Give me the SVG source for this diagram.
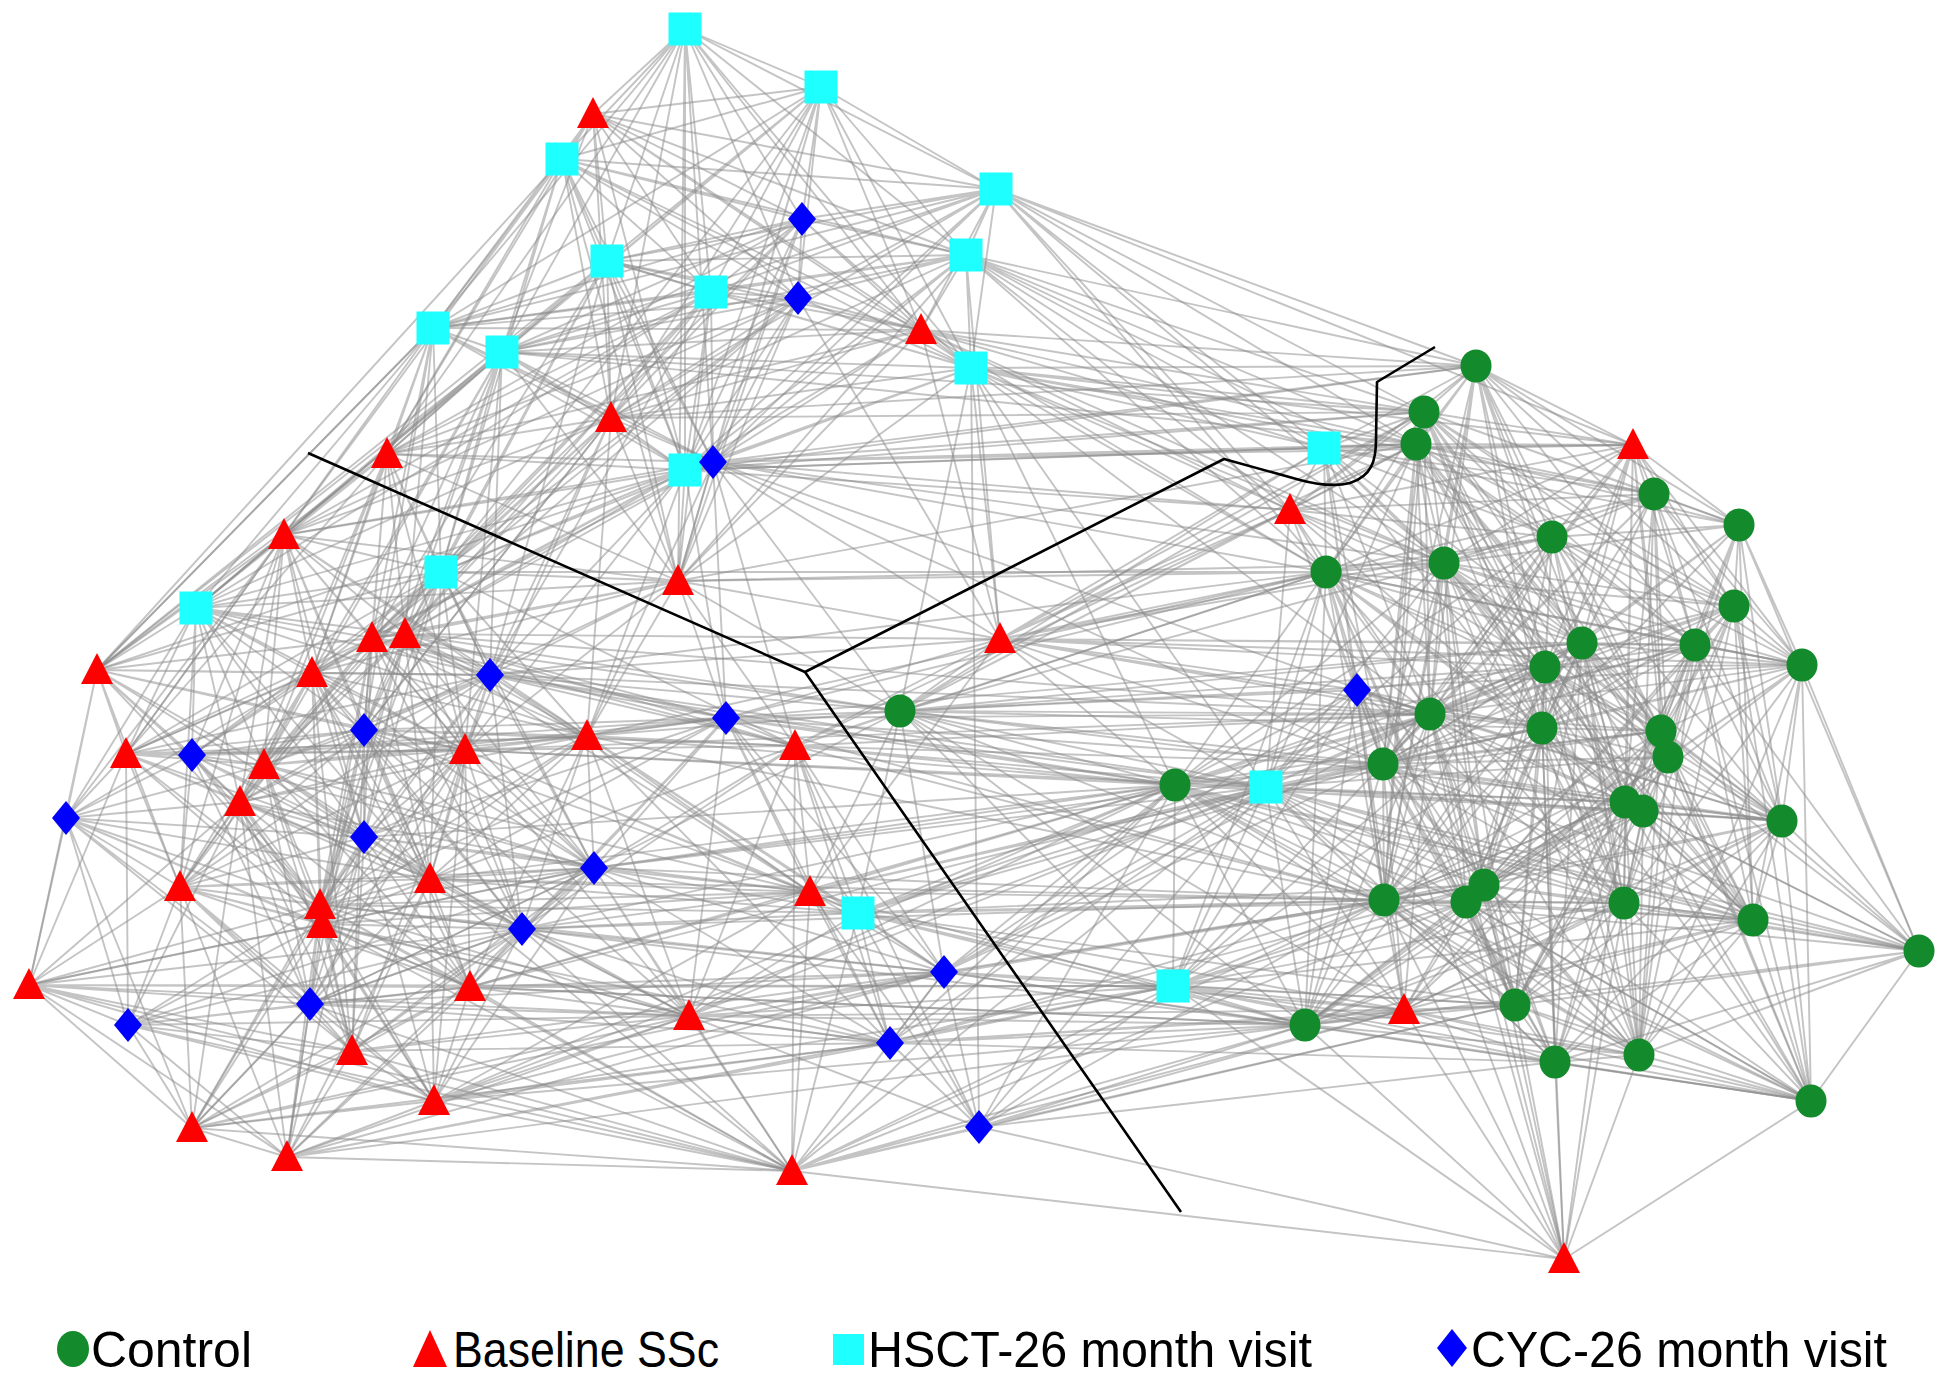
<svg xmlns="http://www.w3.org/2000/svg" xmlns:xlink="http://www.w3.org/1999/xlink" width="1950" height="1388" viewBox="0 0 1950 1388">
<style>
.e{fill:none;stroke:#8a8a8a;stroke-opacity:.5;stroke-width:1.9;stroke-linejoin:round}
.sep{fill:none;stroke:#000;stroke-width:2.6;stroke-linejoin:round}
.lg{font-family:"Liberation Sans",Arial,sans-serif;font-size:50px;fill:#000}
</style>
<defs>
<ellipse id="c" rx="15.5" ry="16.5" fill="#138a2b"/>
<polygon id="t" points="0,-17 16,14 -16,14" fill="#fe0000"/>
<rect id="s" x="-16.5" y="-16.5" width="33" height="33" fill="#1effff"/>
<polygon id="d" points="0,-17 14,0 0,17 -14,0" fill="#0000ff"/>
</defs>
<rect width="1950" height="1388" fill="#fff"/>
<g id="connectors">
<path class="e" d="M685 29L593 114 685 29 562 159 685 29 607 261 685 29 711 292 685 29 802 219 685 29 798 298 685 29 821 87 685 29 996 189 685 29 433 328 685 29 502 352 685 29 611 418 685 29 685 470 685 29 921 330 685 29 966 255 685 29 713 462 685 29 678 581 685 29 971 368 685 29 387 454"/>
<path class="e" d="M821 87L593 114 821 87 562 159 821 87 607 261 821 87 711 292 821 87 802 219 821 87 798 298 821 87 996 189 821 87 966 255 821 87 921 330 821 87 971 368 821 87 433 328 821 87 502 352 821 87 685 470 821 87 611 418 821 87 713 462 821 87 678 581 821 87 284 535 821 87 441 572"/>
<path class="e" d="M593 114L562 159 593 114 607 261 593 114 711 292 593 114 802 219 593 114 798 298 593 114 921 330 593 114 996 189 593 114 966 255 593 114 971 368 593 114 502 352 593 114 433 328 593 114 611 418 593 114 685 470 593 114 387 454"/>
<path class="e" d="M562 159L607 261 562 159 711 292 562 159 802 219 562 159 798 298 562 159 433 328 562 159 502 352 562 159 611 418 562 159 387 454 562 159 685 470 562 159 921 330 562 159 996 189 562 159 966 255 562 159 971 368 562 159 284 535 562 159 441 572 562 159 713 462 562 159 678 581 562 159 97 670"/>
<path class="e" d="M996 189L802 219 996 189 798 298 996 189 966 255 996 189 711 292 996 189 607 261 996 189 921 330 996 189 971 368 996 189 1324 448 996 189 1476 366 996 189 1424 412 996 189 1416 444 996 189 1326 572 996 189 1290 510 996 189 685 470 996 189 713 462 996 189 611 418 996 189 1444 563 996 189 1633 445 996 189 502 352 996 189 433 328"/>
<path class="e" d="M966 255L802 219 966 255 798 298 966 255 711 292 966 255 607 261 966 255 921 330 966 255 971 368 966 255 1324 448 966 255 1476 366 966 255 1424 412 966 255 1416 444 966 255 1326 572 966 255 1290 510 966 255 611 418 966 255 685 470 966 255 502 352 966 255 1000 639 966 255 1444 563 966 255 1552 537 966 255 678 581 966 255 433 328 966 255 713 462"/>
<path class="e" d="M971 368L798 298 971 368 711 292 971 368 607 261 971 368 921 330 971 368 1324 448 971 368 1476 366 971 368 1424 412 971 368 1416 444 971 368 1326 572 971 368 1290 510 971 368 685 470 971 368 1000 639 971 368 900 711 971 368 1175 785 971 368 678 581 971 368 713 462 971 368 1444 563 971 368 1430 714 971 368 1633 445 971 368 1654 494 971 368 979 1127 971 368 502 352 971 368 611 418 971 368 1266 787"/>
<path class="e" d="M802 219L607 261 802 219 711 292 802 219 798 298 802 219 921 330 802 219 502 352 802 219 433 328 802 219 611 418 802 219 685 470 802 219 678 581 802 219 713 462 802 219 387 454 802 219 441 572 802 219 971 368"/>
<path class="e" d="M798 298L607 261 798 298 711 292 798 298 921 330 798 298 502 352 798 298 433 328 798 298 611 418 798 298 685 470 798 298 713 462 798 298 387 454 798 298 284 535 798 298 441 572 798 298 678 581 798 298 372 638 798 298 405 634 798 298 1000 639"/>
<path class="e" d="M607 261L711 292 607 261 433 328 607 261 502 352 607 261 611 418 607 261 387 454 607 261 685 470 607 261 713 462 607 261 284 535 607 261 441 572 607 261 678 581 607 261 372 638 607 261 405 634 607 261 921 330 607 261 196 608 607 261 97 670 607 261 490 675"/>
<path class="e" d="M711 292L433 328 711 292 502 352 711 292 611 418 711 292 387 454 711 292 685 470 711 292 713 462 711 292 678 581 711 292 921 330 711 292 284 535 711 292 441 572 711 292 372 638 711 292 405 634 711 292 490 675 711 292 196 608 711 292 364 730"/>
<path class="e" d="M921 330L502 352 921 330 433 328 921 330 685 470 921 330 713 462 921 330 611 418 921 330 678 581 921 330 1000 639 921 330 1324 448 921 330 1476 366 921 330 1424 412 921 330 1416 444 921 330 1326 572 921 330 1290 510 921 330 1444 563 921 330 387 454"/>
<path class="e" d="M433 328L502 352 433 328 387 454 433 328 611 418 433 328 284 535 433 328 441 572 433 328 196 608 433 328 97 670 433 328 372 638 433 328 405 634 433 328 312 673 433 328 685 470 433 328 713 462 433 328 126 754 433 328 364 730"/>
<path class="e" d="M502 352L387 454 502 352 611 418 502 352 284 535 502 352 441 572 502 352 196 608 502 352 372 638 502 352 405 634 502 352 312 673 502 352 685 470 502 352 713 462 502 352 678 581 502 352 97 670 502 352 490 675 502 352 264 765 502 352 364 730 502 352 465 750"/>
<path class="e" d="M611 418L387 454 611 418 678 581 611 418 685 470 611 418 713 462 611 418 441 572 611 418 284 535 611 418 372 638 611 418 405 634 611 418 465 750 611 418 490 675 611 418 587 736 611 418 364 730 611 418 196 608"/>
<path class="e" d="M685 470L713 462 685 470 678 581 685 470 387 454 685 470 284 535 685 470 441 572 685 470 372 638 685 470 405 634 685 470 196 608 685 470 97 670 685 470 465 750 685 470 587 736 685 470 726 718 685 470 312 673 685 470 490 675 685 470 1476 366 685 470 1324 448 685 470 1424 412 685 470 1290 510"/>
<path class="e" d="M713 462L678 581 713 462 387 454 713 462 284 535 713 462 441 572 713 462 372 638 713 462 405 634 713 462 587 736 713 462 726 718 713 462 1476 366 713 462 1424 412 713 462 1416 444 713 462 1324 448 713 462 1326 572 713 462 1444 563 713 462 1290 510 713 462 1000 639 713 462 795 746 713 462 900 711 713 462 1430 714 713 462 1383 764 713 462 1633 445"/>
<path class="e" d="M678 581L387 454 678 581 284 535 678 581 441 572 678 581 372 638 678 581 405 634 678 581 587 736 678 581 795 746 678 581 726 718 678 581 490 675 678 581 465 750 678 581 1000 639 678 581 900 711 678 581 312 673 678 581 364 730 678 581 196 608"/>
<path class="e" d="M387 454L284 535 387 454 441 572 387 454 196 608 387 454 97 670 387 454 372 638 387 454 405 634 387 454 312 673 387 454 264 765 387 454 126 754 387 454 240 802 387 454 364 730 387 454 490 675 387 454 465 750"/>
<path class="e" d="M284 535L196 608 284 535 441 572 284 535 97 670 284 535 372 638 284 535 405 634 284 535 312 673 284 535 126 754 284 535 264 765 284 535 192 755 284 535 240 802 284 535 364 730 284 535 465 750 284 535 490 675 284 535 180 887 284 535 430 879 284 535 66 818 284 535 587 736 284 535 364 837"/>
<path class="e" d="M441 572L196 608 441 572 372 638 441 572 405 634 441 572 312 673 441 572 264 765 441 572 364 730 441 572 490 675 441 572 465 750 441 572 587 736 441 572 240 802 441 572 364 837 441 572 430 879 441 572 126 754 441 572 97 670 441 572 192 755 441 572 320 905 441 572 594 868 441 572 795 746"/>
<path class="e" d="M196 608L97 670 196 608 372 638 196 608 405 634 196 608 312 673 196 608 126 754 196 608 192 755 196 608 264 765 196 608 240 802 196 608 364 730 196 608 465 750 196 608 66 818 196 608 180 887 196 608 587 736 196 608 364 837 196 608 490 675 196 608 430 879"/>
<path class="e" d="M97 670L126 754 97 670 66 818 97 670 312 673 97 670 192 755 97 670 264 765 97 670 240 802 97 670 372 638 97 670 405 634 97 670 364 730 97 670 180 887 97 670 29 985 97 670 490 675 97 670 465 750 97 670 320 905 97 670 364 837 97 670 433 328"/>
<path class="e" d="M372 638L405 634 372 638 312 673 372 638 264 765 372 638 364 730 372 638 490 675 372 638 465 750 372 638 587 736 372 638 240 802 372 638 364 837 372 638 430 879 372 638 320 905 372 638 126 754 372 638 192 755 372 638 180 887 372 638 594 868 372 638 726 718 372 638 322 924 372 638 522 929 372 638 795 746 372 638 900 711"/>
<path class="e" d="M405 634L312 673 405 634 364 730 405 634 490 675 405 634 465 750 405 634 587 736 405 634 264 765 405 634 240 802 405 634 364 837 405 634 430 879 405 634 320 905 405 634 322 924 405 634 594 868 405 634 522 929 405 634 795 746 405 634 726 718 405 634 126 754 405 634 810 892 405 634 900 711 405 634 1000 639"/>
<path class="e" d="M312 673L126 754 312 673 192 755 312 673 264 765 312 673 364 730 312 673 465 750 312 673 240 802 312 673 364 837 312 673 180 887 312 673 430 879 312 673 320 905 312 673 322 924 312 673 66 818 312 673 490 675 312 673 587 736 312 673 594 868 312 673 522 929 312 673 470 987 312 673 352 1051"/>
<path class="e" d="M490 675L465 750 490 675 587 736 490 675 364 730 490 675 264 765 490 675 240 802 490 675 364 837 490 675 430 879 490 675 320 905 490 675 594 868 490 675 522 929 490 675 795 746 490 675 726 718 490 675 126 754 490 675 180 887 490 675 310 1004 490 675 900 711 490 675 810 892 490 675 1000 639 490 675 1175 785"/>
<path class="e" d="M126 754L192 755 126 754 264 765 126 754 240 802 126 754 66 818 126 754 180 887 126 754 364 730 126 754 465 750 126 754 364 837 126 754 320 905 126 754 29 985 126 754 128 1025 126 754 430 879 126 754 322 924 126 754 587 736"/>
<path class="e" d="M192 755L264 765 192 755 240 802 192 755 66 818 192 755 180 887 192 755 364 730 192 755 465 750 192 755 587 736 192 755 320 905 192 755 322 924 192 755 364 837 192 755 310 1004 192 755 594 868 192 755 430 879 192 755 726 718"/>
<path class="e" d="M264 765L240 802 264 765 364 730 264 765 465 750 264 765 587 736 264 765 364 837 264 765 180 887 264 765 430 879 264 765 320 905 264 765 322 924 264 765 594 868 264 765 522 929 264 765 310 1004 264 765 470 987 264 765 352 1051 264 765 66 818 264 765 810 892 264 765 726 718"/>
<path class="e" d="M364 730L465 750 364 730 587 736 364 730 240 802 364 730 364 837 364 730 180 887 364 730 430 879 364 730 320 905 364 730 322 924 364 730 594 868 364 730 522 929 364 730 795 746 364 730 726 718 364 730 470 987 364 730 310 1004 364 730 352 1051 364 730 810 892 364 730 689 1016"/>
<path class="e" d="M465 750L587 736 465 750 240 802 465 750 364 837 465 750 430 879 465 750 320 905 465 750 322 924 465 750 594 868 465 750 522 929 465 750 795 746 465 750 726 718 465 750 470 987 465 750 810 892 465 750 310 1004 465 750 352 1051 465 750 689 1016 465 750 434 1101 465 750 858 913 465 750 180 887"/>
<path class="e" d="M587 736L726 718 587 736 795 746 587 736 594 868 587 736 522 929 587 736 430 879 587 736 320 905 587 736 810 892 587 736 689 1016 587 736 364 837 587 736 900 711 587 736 944 972 587 736 858 913 587 736 240 802 587 736 470 987 587 736 322 924 587 736 1175 785 587 736 890 1043"/>
<path class="e" d="M726 718L795 746 726 718 594 868 726 718 522 929 726 718 810 892 726 718 689 1016 726 718 858 913 726 718 944 972 726 718 900 711 726 718 430 879 726 718 320 905 726 718 1175 785 726 718 1266 787 726 718 1326 572 726 718 1383 764 726 718 890 1043 726 718 1000 639 726 718 470 987 726 718 364 837 726 718 1430 714 726 718 1384 900"/>
<path class="e" d="M795 746L594 868 795 746 810 892 795 746 858 913 795 746 944 972 795 746 890 1043 795 746 689 1016 795 746 792 1171 795 746 900 711 795 746 1175 785 795 746 1266 787 795 746 1000 639 795 746 979 1127 795 746 1383 764 795 746 1384 900 795 746 522 929 795 746 430 879 795 746 1326 572 795 746 1290 510 795 746 1430 714"/>
<path class="e" d="M240 802L66 818 240 802 180 887 240 802 364 837 240 802 430 879 240 802 320 905 240 802 322 924 240 802 310 1004 240 802 128 1025 240 802 29 985 240 802 470 987 240 802 352 1051 240 802 192 1128 240 802 287 1157 240 802 594 868 240 802 434 1101 240 802 522 929"/>
<path class="e" d="M66 818L180 887 66 818 29 985 66 818 128 1025 66 818 320 905 66 818 322 924 66 818 310 1004 66 818 192 1128 66 818 470 987 66 818 352 1051 66 818 364 837 66 818 430 879"/>
<path class="e" d="M180 887L29 985 180 887 128 1025 180 887 310 1004 180 887 320 905 180 887 322 924 180 887 430 879 180 887 364 837 180 887 352 1051 180 887 192 1128 180 887 287 1157 180 887 470 987 180 887 434 1101 180 887 594 868 180 887 522 929 180 887 689 1016"/>
<path class="e" d="M364 837L430 879 364 837 320 905 364 837 322 924 364 837 594 868 364 837 522 929 364 837 310 1004 364 837 470 987 364 837 352 1051 364 837 434 1101 364 837 810 892 364 837 689 1016 364 837 192 1128 364 837 287 1157"/>
<path class="e" d="M430 879L320 905 430 879 322 924 430 879 594 868 430 879 522 929 430 879 310 1004 430 879 470 987 430 879 352 1051 430 879 434 1101 430 879 689 1016 430 879 810 892 430 879 287 1157 430 879 858 913 430 879 192 1128 430 879 792 1171"/>
<path class="e" d="M320 905L594 868 320 905 522 929 320 905 310 1004 320 905 470 987 320 905 352 1051 320 905 434 1101 320 905 192 1128 320 905 287 1157 320 905 810 892 320 905 689 1016 320 905 792 1171 320 905 29 985 320 905 128 1025 320 905 858 913 320 905 944 972"/>
<path class="e" d="M322 924L594 868 322 924 522 929 322 924 310 1004 322 924 470 987 322 924 352 1051 322 924 434 1101 322 924 192 1128 322 924 287 1157 322 924 689 1016 322 924 792 1171 322 924 29 985 322 924 128 1025 322 924 890 1043 322 924 810 892"/>
<path class="e" d="M594 868L522 929 594 868 810 892 594 868 689 1016 594 868 858 913 594 868 944 972 594 868 470 987 594 868 434 1101 594 868 792 1171 594 868 890 1043 594 868 900 711 594 868 1175 785 594 868 1266 787 594 868 352 1051 594 868 310 1004 594 868 1384 900"/>
<path class="e" d="M522 929L810 892 522 929 689 1016 522 929 858 913 522 929 470 987 522 929 352 1051 522 929 434 1101 522 929 792 1171 522 929 944 972 522 929 890 1043 522 929 1175 785 522 929 310 1004 522 929 287 1157 522 929 192 1128"/>
<path class="e" d="M810 892L858 913 810 892 944 972 810 892 689 1016 810 892 890 1043 810 892 792 1171 810 892 1175 785 810 892 1266 787 810 892 1383 764 810 892 979 1127 810 892 434 1101 810 892 470 987 810 892 900 711 810 892 1384 900 810 892 1000 639"/>
<path class="e" d="M858 913L944 972 858 913 890 1043 858 913 689 1016 858 913 792 1171 858 913 1173 986 858 913 1175 785 858 913 1266 787 858 913 1384 900 858 913 1305 1025 858 913 1484 885 858 913 1404 1010 858 913 979 1127 858 913 900 711 858 913 1430 714 858 913 1383 764 858 913 1466 902 858 913 1515 1005"/>
<path class="e" d="M29 985L128 1025 29 985 192 1128 29 985 287 1157 29 985 310 1004 29 985 352 1051 29 985 434 1101 29 985 470 987 29 985 522 929 29 985 594 868 29 985 689 1016 29 985 792 1171 29 985 1173 986"/>
<path class="e" d="M128 1025L192 1128 128 1025 287 1157 128 1025 310 1004 128 1025 352 1051 128 1025 434 1101 128 1025 470 987 128 1025 689 1016 128 1025 522 929 128 1025 594 868 128 1025 792 1171"/>
<path class="e" d="M310 1004L352 1051 310 1004 434 1101 310 1004 192 1128 310 1004 287 1157 310 1004 470 987 310 1004 689 1016 310 1004 792 1171 310 1004 522 929 310 1004 594 868 310 1004 890 1043 310 1004 944 972"/>
<path class="e" d="M470 987L352 1051 470 987 434 1101 470 987 689 1016 470 987 792 1171 470 987 192 1128 470 987 287 1157 470 987 890 1043 470 987 944 972 470 987 1173 986 470 987 1175 785 470 987 1266 787 470 987 1305 1025"/>
<path class="e" d="M352 1051L434 1101 352 1051 192 1128 352 1051 287 1157 352 1051 689 1016 352 1051 792 1171 352 1051 890 1043 352 1051 944 972"/>
<path class="e" d="M434 1101L192 1128 434 1101 287 1157 434 1101 689 1016 434 1101 792 1171 434 1101 890 1043 434 1101 944 972 434 1101 1173 986 434 1101 1305 1025 434 1101 1175 785 434 1101 1266 787"/>
<path class="e" d="M192 1128L287 1157 192 1128 689 1016 192 1128 792 1171 192 1128 890 1043 192 1128 944 972"/>
<path class="e" d="M287 1157L792 1171 287 1157 689 1016 287 1157 890 1043 287 1157 944 972 287 1157 1173 986 287 1157 1305 1025"/>
<path class="e" d="M689 1016L944 972 689 1016 890 1043 689 1016 792 1171 689 1016 1173 986 689 1016 1175 785 689 1016 1266 787 689 1016 1384 900 689 1016 1305 1025 689 1016 1404 1010 689 1016 979 1127 689 1016 1484 885"/>
<path class="e" d="M792 1171L944 972 792 1171 890 1043 792 1171 979 1127 792 1171 1173 986 792 1171 1564 1259 792 1171 1305 1025 792 1171 1175 785 792 1171 1266 787 792 1171 1384 900 792 1171 1404 1010 792 1171 1515 1005 792 1171 1466 902"/>
<path class="e" d="M944 972L890 1043 944 972 979 1127 944 972 1173 986 944 972 1175 785 944 972 1266 787 944 972 1384 900 944 972 1305 1025 944 972 1404 1010 944 972 1484 885 944 972 1515 1005 944 972 1383 764 944 972 900 711 944 972 1430 714 944 972 1357 690"/>
<path class="e" d="M890 1043L979 1127 890 1043 1173 986 890 1043 1175 785 890 1043 1266 787 890 1043 1384 900 890 1043 1305 1025 890 1043 1404 1010 890 1043 1515 1005 890 1043 1555 1062 890 1043 1484 885"/>
<path class="e" d="M979 1127L1173 986 979 1127 1564 1259 979 1127 1305 1025 979 1127 1404 1010 979 1127 1384 900 979 1127 1175 785 979 1127 1266 787 979 1127 1515 1005 979 1127 1555 1062"/>
<path class="e" d="M1173 986L1175 785 1173 986 1266 787 1173 986 1384 900 1173 986 1305 1025 1173 986 1404 1010 1173 986 1515 1005 1173 986 1555 1062 1173 986 1484 885 1173 986 1466 902 1173 986 1624 903 1173 986 1383 764 1173 986 1430 714 1173 986 1542 728 1173 986 1639 1055 1173 986 1753 920 1173 986 1811 1101 1173 986 1357 690 1173 986 1545 667 1173 986 900 711 1173 986 1625 802 1173 986 1326 572 1173 986 1564 1259"/>
<path class="e" d="M900 711L1175 785 900 711 1266 787 900 711 1326 572 900 711 1430 714 900 711 1444 563 900 711 1383 764 900 711 1384 900 900 711 1000 639 900 711 1290 510 900 711 1416 444 900 711 1545 667 900 711 1542 728 900 711 1582 643 900 711 1305 1025 900 711 1357 690 900 711 1424 412 900 711 1404 1010 900 711 1324 448"/>
<path class="e" d="M1175 785L1266 787 1175 785 1326 572 1175 785 1430 714 1175 785 1383 764 1175 785 1384 900 1175 785 1305 1025 1175 785 1404 1010 1175 785 1357 690 1175 785 1545 667 1175 785 1542 728 1175 785 1484 885 1175 785 1466 902 1175 785 1515 1005 1175 785 1624 903 1175 785 1625 802 1175 785 1643 811 1175 785 1582 643 1175 785 1695 645 1175 785 1661 731 1175 785 1782 821 1175 785 1753 920 1175 785 1919 951 1175 785 1811 1101 1175 785 1639 1055 1175 785 1444 563 1175 785 1552 537 1175 785 1000 639 1175 785 465 750 1175 785 364 837 1175 785 430 879"/>
<path class="e" d="M1266 787L1326 572 1266 787 1430 714 1266 787 1383 764 1266 787 1384 900 1266 787 1305 1025 1266 787 1404 1010 1266 787 1357 690 1266 787 1545 667 1266 787 1542 728 1266 787 1484 885 1266 787 1466 902 1266 787 1515 1005 1266 787 1624 903 1266 787 1625 802 1266 787 1643 811 1266 787 1661 731 1266 787 1668 757 1266 787 1782 821 1266 787 1753 920 1266 787 1919 951 1266 787 1811 1101 1266 787 1639 1055 1266 787 1555 1062 1266 787 1582 643 1266 787 1444 563 1266 787 1552 537 1266 787 1000 639 1266 787 1290 510 1266 787 1416 444 1266 787 465 750 1266 787 490 675"/>
<path class="e" d="M1000 639L1326 572 1000 639 1444 563 1000 639 1552 537 1000 639 1582 643 1000 639 1545 667 1000 639 1290 510 1000 639 1324 448 1000 639 1430 714 1000 639 1416 444 1000 639 1424 412 1000 639 1542 728 1000 639 1383 764 1000 639 1357 690 1000 639 1802 665 1000 639 1695 645"/>
<path class="e" d="M1290 510L1326 572 1290 510 1444 563 1290 510 1430 714 1290 510 1416 444 1290 510 1424 412 1290 510 1324 448 1290 510 1476 366 1290 510 1552 537 1290 510 1545 667 1290 510 1582 643 1290 510 1383 764 1290 510 1357 690 1290 510 1542 728 1290 510 1633 445 1290 510 1654 494"/>
<path class="e" d="M1324 448L1476 366 1324 448 1424 412 1324 448 1416 444 1324 448 1326 572 1324 448 1444 563 1324 448 1552 537 1324 448 1545 667 1324 448 1430 714 1324 448 1542 728 1324 448 1383 764 1324 448 1633 445 1324 448 1654 494 1324 448 1582 643 1324 448 1739 525 1324 448 1357 690 1324 448 1384 900"/>
<path class="e" d="M1476 366L1424 412 1476 366 1416 444 1476 366 1326 572 1476 366 1444 563 1476 366 1552 537 1476 366 1654 494 1476 366 1739 525 1476 366 1582 643 1476 366 1545 667 1476 366 1430 714 1476 366 1542 728 1476 366 1383 764 1476 366 1633 445 1476 366 1734 606 1476 366 1661 731 1476 366 1695 645 1476 366 1625 802 1476 366 1384 900 1476 366 611 418"/>
<path class="e" d="M1424 412L1416 444 1424 412 1326 572 1424 412 1444 563 1424 412 1552 537 1424 412 1654 494 1424 412 1739 525 1424 412 1582 643 1424 412 1545 667 1424 412 1430 714 1424 412 1542 728 1424 412 1383 764 1424 412 1633 445 1424 412 1734 606 1424 412 1695 645 1424 412 1802 665 1424 412 1661 731 1424 412 1625 802 1424 412 1624 903 1424 412 1384 900 1424 412 611 418 1424 412 502 352"/>
<path class="e" d="M1416 444L1326 572 1416 444 1444 563 1416 444 1552 537 1416 444 1654 494 1416 444 1739 525 1416 444 1582 643 1416 444 1545 667 1416 444 1430 714 1416 444 1542 728 1416 444 1383 764 1416 444 1633 445 1416 444 1734 606 1416 444 1695 645 1416 444 1661 731 1416 444 1668 757 1416 444 1643 811 1416 444 1384 900 1416 444 1753 920 1416 444 1484 885 1416 444 685 470 1416 444 678 581 1416 444 502 352"/>
<path class="e" d="M1633 445L1654 494 1633 445 1739 525 1633 445 1552 537 1633 445 1734 606 1633 445 1582 643 1633 445 1695 645 1633 445 1661 731 1633 445 1625 802 1633 445 1624 903 1633 445 1444 563 1633 445 1802 665 1633 445 1545 667 1633 445 1326 572 1633 445 1430 714 1633 445 1542 728 1633 445 1668 757 1633 445 1383 764"/>
<path class="e" d="M1654 494L1739 525 1654 494 1552 537 1654 494 1734 606 1654 494 1582 643 1654 494 1695 645 1654 494 1545 667 1654 494 1802 665 1654 494 1430 714 1654 494 1542 728 1654 494 1661 731 1654 494 1668 757 1654 494 1625 802 1654 494 1643 811 1654 494 1326 572 1654 494 1444 563 1654 494 1383 764 1654 494 1782 821"/>
<path class="e" d="M1739 525L1734 606 1739 525 1695 645 1739 525 1802 665 1739 525 1582 643 1739 525 1545 667 1739 525 1661 731 1739 525 1668 757 1739 525 1782 821 1739 525 1552 537 1739 525 1444 563 1739 525 1542 728 1739 525 1625 802 1739 525 1753 920 1739 525 1919 951"/>
<path class="e" d="M1552 537L1326 572 1552 537 1444 563 1552 537 1734 606 1552 537 1582 643 1552 537 1695 645 1552 537 1545 667 1552 537 1430 714 1552 537 1542 728 1552 537 1661 731 1552 537 1668 757 1552 537 1625 802 1552 537 1802 665 1552 537 1383 764 1552 537 1384 900 1552 537 1484 885 1552 537 1624 903 1552 537 1782 821"/>
<path class="e" d="M1326 572L1444 563 1326 572 1582 643 1326 572 1545 667 1326 572 1430 714 1326 572 1542 728 1326 572 1383 764 1326 572 1695 645 1326 572 1661 731 1326 572 1625 802 1326 572 1643 811 1326 572 1384 900 1326 572 1484 885 1326 572 1466 902 1326 572 1734 606 1326 572 1802 665 1326 572 1357 690 1326 572 1305 1025 1326 572 1515 1005 1326 572 1624 903 1326 572 678 581 1326 572 587 736 1326 572 490 675 1326 572 441 572"/>
<path class="e" d="M1444 563L1582 643 1444 563 1695 645 1444 563 1545 667 1444 563 1430 714 1444 563 1542 728 1444 563 1661 731 1444 563 1668 757 1444 563 1383 764 1444 563 1625 802 1444 563 1643 811 1444 563 1734 606 1444 563 1802 665 1444 563 1384 900 1444 563 1484 885 1444 563 1466 902 1444 563 1624 903 1444 563 1782 821 1444 563 1753 920 1444 563 1515 1005 1444 563 1639 1055 1444 563 678 581"/>
<path class="e" d="M1734 606L1582 643 1734 606 1695 645 1734 606 1545 667 1734 606 1802 665 1734 606 1542 728 1734 606 1661 731 1734 606 1668 757 1734 606 1625 802 1734 606 1782 821 1734 606 1430 714 1734 606 1383 764 1734 606 1484 885 1734 606 1624 903 1734 606 1753 920 1734 606 1811 1101 1734 606 1639 1055"/>
<path class="e" d="M1582 643L1695 645 1582 643 1545 667 1582 643 1802 665 1582 643 1430 714 1582 643 1542 728 1582 643 1661 731 1582 643 1668 757 1582 643 1383 764 1582 643 1625 802 1582 643 1643 811 1582 643 1782 821 1582 643 1384 900 1582 643 1484 885 1582 643 1466 902 1582 643 1624 903 1582 643 1753 920 1582 643 1515 1005 1582 643 1555 1062 1582 643 1639 1055 1582 643 726 718"/>
<path class="e" d="M1695 645L1545 667 1695 645 1802 665 1695 645 1430 714 1695 645 1542 728 1695 645 1661 731 1695 645 1668 757 1695 645 1383 764 1695 645 1625 802 1695 645 1782 821 1695 645 1484 885 1695 645 1624 903 1695 645 1753 920 1695 645 1919 951 1695 645 1639 1055 1695 645 1811 1101 1695 645 1515 1005"/>
<path class="e" d="M1545 667L1802 665 1545 667 1430 714 1545 667 1542 728 1545 667 1661 731 1545 667 1668 757 1545 667 1383 764 1545 667 1625 802 1545 667 1643 811 1545 667 1782 821 1545 667 1384 900 1545 667 1484 885 1545 667 1466 902 1545 667 1624 903 1545 667 1753 920 1545 667 1515 1005 1545 667 1555 1062 1545 667 1639 1055 1545 667 1357 690"/>
<path class="e" d="M1802 665L1430 714 1802 665 1542 728 1802 665 1661 731 1802 665 1668 757 1802 665 1625 802 1802 665 1782 821 1802 665 1624 903 1802 665 1753 920 1802 665 1919 951 1802 665 1811 1101 1802 665 1383 764 1802 665 1484 885 1802 665 1639 1055 1802 665 1326 572 1802 665 900 711"/>
<path class="e" d="M1430 714L1542 728 1430 714 1661 731 1430 714 1383 764 1430 714 1625 802 1430 714 1782 821 1430 714 1384 900 1430 714 1484 885 1430 714 1466 902 1430 714 1624 903 1430 714 1753 920 1430 714 1515 1005 1430 714 1555 1062 1430 714 1639 1055 1430 714 1357 690 1430 714 1305 1025 1430 714 1404 1010 1430 714 490 675 1430 714 465 750 1430 714 405 634"/>
<path class="e" d="M1542 728L1661 731 1542 728 1668 757 1542 728 1383 764 1542 728 1625 802 1542 728 1643 811 1542 728 1782 821 1542 728 1384 900 1542 728 1484 885 1542 728 1466 902 1542 728 1624 903 1542 728 1753 920 1542 728 1515 1005 1542 728 1555 1062 1542 728 1639 1055 1542 728 1811 1101 1542 728 1357 690 1542 728 1305 1025"/>
<path class="e" d="M1661 731L1668 757 1661 731 1383 764 1661 731 1625 802 1661 731 1782 821 1661 731 1384 900 1661 731 1484 885 1661 731 1624 903 1661 731 1753 920 1661 731 1919 951 1661 731 1515 1005 1661 731 1555 1062 1661 731 1639 1055 1661 731 1811 1101 1661 731 1404 1010"/>
<path class="e" d="M1668 757L1383 764 1668 757 1625 802 1668 757 1643 811 1668 757 1782 821 1668 757 1384 900 1668 757 1484 885 1668 757 1466 902 1668 757 1753 920 1668 757 1919 951 1668 757 1515 1005 1668 757 1639 1055 1668 757 1811 1101 1668 757 1305 1025"/>
<path class="e" d="M1383 764L1357 690 1383 764 1625 802 1383 764 1643 811 1383 764 1782 821 1383 764 1384 900 1383 764 1484 885 1383 764 1466 902 1383 764 1624 903 1383 764 1753 920 1383 764 1305 1025 1383 764 1515 1005 1383 764 1555 1062 1383 764 1639 1055 1383 764 1404 1010 1383 764 1919 951 1383 764 594 868"/>
<path class="e" d="M1357 690L1384 900 1357 690 1305 1025 1357 690 1404 1010 1357 690 1484 885 1357 690 1625 802 1357 690 1624 903 1357 690 1515 1005 1357 690 1782 821"/>
<path class="e" d="M1625 802L1643 811 1625 802 1782 821 1625 802 1384 900 1625 802 1484 885 1625 802 1466 902 1625 802 1624 903 1625 802 1753 920 1625 802 1919 951 1625 802 1305 1025 1625 802 1515 1005 1625 802 1555 1062 1625 802 1639 1055 1625 802 1811 1101 1625 802 1404 1010 1625 802 1564 1259"/>
<path class="e" d="M1643 811L1782 821 1643 811 1384 900 1643 811 1484 885 1643 811 1624 903 1643 811 1753 920 1643 811 1919 951 1643 811 1305 1025 1643 811 1515 1005 1643 811 1639 1055 1643 811 1811 1101"/>
<path class="e" d="M1782 821L1384 900 1782 821 1484 885 1782 821 1624 903 1782 821 1753 920 1782 821 1919 951 1782 821 1515 1005 1782 821 1555 1062 1782 821 1639 1055 1782 821 1811 1101 1782 821 1305 1025 1782 821 1404 1010 1782 821 900 711"/>
<path class="e" d="M1384 900L1484 885 1384 900 1466 902 1384 900 1624 903 1384 900 1753 920 1384 900 1305 1025 1384 900 1515 1005 1384 900 1555 1062 1384 900 1639 1055 1384 900 1404 1010 1384 900 1564 1259 1384 900 1811 1101 1384 900 1919 951 1384 900 587 736 1384 900 522 929 1384 900 430 879"/>
<path class="e" d="M1484 885L1624 903 1484 885 1753 920 1484 885 1919 951 1484 885 1305 1025 1484 885 1515 1005 1484 885 1555 1062 1484 885 1639 1055 1484 885 1811 1101 1484 885 1404 1010 1484 885 1564 1259"/>
<path class="e" d="M1466 902L1624 903 1466 902 1753 920 1466 902 1305 1025 1466 902 1515 1005 1466 902 1555 1062 1466 902 1639 1055 1466 902 1811 1101 1466 902 1404 1010 1466 902 1564 1259"/>
<path class="e" d="M1624 903L1753 920 1624 903 1919 951 1624 903 1305 1025 1624 903 1515 1005 1624 903 1555 1062 1624 903 1639 1055 1624 903 1811 1101 1624 903 1404 1010 1624 903 1564 1259"/>
<path class="e" d="M1753 920L1919 951 1753 920 1305 1025 1753 920 1515 1005 1753 920 1555 1062 1753 920 1639 1055 1753 920 1811 1101 1753 920 1404 1010"/>
<path class="e" d="M1919 951L1811 1101 1919 951 1639 1055 1919 951 1515 1005 1919 951 1555 1062 1919 951 1305 1025"/>
<path class="e" d="M1305 1025L1404 1010 1305 1025 1515 1005 1305 1025 1555 1062 1305 1025 1639 1055 1305 1025 1811 1101 1305 1025 1564 1259 1305 1025 470 987 1305 1025 522 929 1305 1025 810 892"/>
<path class="e" d="M1404 1010L1515 1005 1404 1010 1555 1062 1404 1010 1639 1055 1404 1010 1811 1101 1404 1010 1564 1259"/>
<path class="e" d="M1515 1005L1555 1062 1515 1005 1639 1055 1515 1005 1811 1101 1515 1005 1564 1259"/>
<path class="e" d="M1555 1062L1639 1055 1555 1062 1811 1101 1555 1062 1564 1259"/>
<path class="e" d="M1639 1055L1811 1101 1639 1055 1564 1259"/>
<path class="e" d="M1811 1101L1564 1259 1811 1101 944 972"/>
<path class="e" d="M1564 1259L1542 728 1564 1259 1383 764 1564 1259 1430 714"/>
</g>
<g id="separators">
<path class="sep" d="M308 453L805 672L1181 1212"/>
<path class="sep" d="M805 672L1224 459L1300 480Q1330 488 1350 483C1372 476 1376 460 1376 440L1377 382L1435 347"/>
</g>
<g id="nodes">
<g id="hsct-1" transform="translate(685 29)"><use href="#s"/></g>
<g id="hsct-2" transform="translate(821 87)"><use href="#s"/></g>
<g id="hsct-3" transform="translate(562 159)"><use href="#s"/></g>
<g id="hsct-4" transform="translate(996 189)"><use href="#s"/></g>
<g id="hsct-5" transform="translate(607 261)"><use href="#s"/></g>
<g id="hsct-6" transform="translate(966 255)"><use href="#s"/></g>
<g id="hsct-7" transform="translate(711 292)"><use href="#s"/></g>
<g id="hsct-8" transform="translate(433 328)"><use href="#s"/></g>
<g id="hsct-9" transform="translate(502 352)"><use href="#s"/></g>
<g id="hsct-10" transform="translate(971 368)"><use href="#s"/></g>
<g id="hsct-11" transform="translate(1324 448)"><use href="#s"/></g>
<g id="hsct-12" transform="translate(685 470)"><use href="#s"/></g>
<g id="hsct-13" transform="translate(441 572)"><use href="#s"/></g>
<g id="hsct-14" transform="translate(196 608)"><use href="#s"/></g>
<g id="hsct-15" transform="translate(1266 787)"><use href="#s"/></g>
<g id="hsct-16" transform="translate(858 913)"><use href="#s"/></g>
<g id="hsct-17" transform="translate(1173 986)"><use href="#s"/></g>
<g id="cyc-1" transform="translate(802 219)"><use href="#d"/></g>
<g id="cyc-2" transform="translate(798 298)"><use href="#d"/></g>
<g id="cyc-3" transform="translate(713 462)"><use href="#d"/></g>
<g id="cyc-4" transform="translate(490 675)"><use href="#d"/></g>
<g id="cyc-5" transform="translate(726 718)"><use href="#d"/></g>
<g id="cyc-6" transform="translate(364 730)"><use href="#d"/></g>
<g id="cyc-7" transform="translate(192 755)"><use href="#d"/></g>
<g id="cyc-8" transform="translate(1357 690)"><use href="#d"/></g>
<g id="cyc-9" transform="translate(66 818)"><use href="#d"/></g>
<g id="cyc-10" transform="translate(364 837)"><use href="#d"/></g>
<g id="cyc-11" transform="translate(594 868)"><use href="#d"/></g>
<g id="cyc-12" transform="translate(522 929)"><use href="#d"/></g>
<g id="cyc-13" transform="translate(944 972)"><use href="#d"/></g>
<g id="cyc-14" transform="translate(310 1004)"><use href="#d"/></g>
<g id="cyc-15" transform="translate(128 1025)"><use href="#d"/></g>
<g id="cyc-16" transform="translate(890 1043)"><use href="#d"/></g>
<g id="cyc-17" transform="translate(979 1127)"><use href="#d"/></g>
<g id="ssc-1" transform="translate(593 114)"><use href="#t"/></g>
<g id="ssc-2" transform="translate(921 330)"><use href="#t"/></g>
<g id="ssc-3" transform="translate(611 418)"><use href="#t"/></g>
<g id="ssc-4" transform="translate(387 454)"><use href="#t"/></g>
<g id="ssc-5" transform="translate(1633 445)"><use href="#t"/></g>
<g id="ssc-6" transform="translate(1290 510)"><use href="#t"/></g>
<g id="ssc-7" transform="translate(284 535)"><use href="#t"/></g>
<g id="ssc-8" transform="translate(678 581)"><use href="#t"/></g>
<g id="ssc-9" transform="translate(372 638)"><use href="#t"/></g>
<g id="ssc-10" transform="translate(405 634)"><use href="#t"/></g>
<g id="ssc-11" transform="translate(1000 639)"><use href="#t"/></g>
<g id="ssc-12" transform="translate(97 670)"><use href="#t"/></g>
<g id="ssc-13" transform="translate(312 673)"><use href="#t"/></g>
<g id="ssc-14" transform="translate(126 754)"><use href="#t"/></g>
<g id="ssc-15" transform="translate(264 765)"><use href="#t"/></g>
<g id="ssc-16" transform="translate(465 750)"><use href="#t"/></g>
<g id="ssc-17" transform="translate(587 736)"><use href="#t"/></g>
<g id="ssc-18" transform="translate(795 746)"><use href="#t"/></g>
<g id="ssc-19" transform="translate(240 802)"><use href="#t"/></g>
<g id="ssc-20" transform="translate(180 887)"><use href="#t"/></g>
<g id="ssc-21" transform="translate(430 879)"><use href="#t"/></g>
<g id="ssc-22" transform="translate(320 905)"><use href="#t"/></g>
<g id="ssc-23" transform="translate(322 924)"><use href="#t"/></g>
<g id="ssc-24" transform="translate(810 892)"><use href="#t"/></g>
<g id="ssc-25" transform="translate(29 985)"><use href="#t"/></g>
<g id="ssc-26" transform="translate(470 987)"><use href="#t"/></g>
<g id="ssc-27" transform="translate(689 1016)"><use href="#t"/></g>
<g id="ssc-28" transform="translate(1404 1010)"><use href="#t"/></g>
<g id="ssc-29" transform="translate(352 1051)"><use href="#t"/></g>
<g id="ssc-30" transform="translate(434 1101)"><use href="#t"/></g>
<g id="ssc-31" transform="translate(192 1128)"><use href="#t"/></g>
<g id="ssc-32" transform="translate(287 1157)"><use href="#t"/></g>
<g id="ssc-33" transform="translate(792 1171)"><use href="#t"/></g>
<g id="ssc-34" transform="translate(1564 1259)"><use href="#t"/></g>
<g id="ctl-1" transform="translate(1476 366)"><use href="#c"/></g>
<g id="ctl-2" transform="translate(1424 412)"><use href="#c"/></g>
<g id="ctl-3" transform="translate(1416 444)"><use href="#c"/></g>
<g id="ctl-4" transform="translate(1654 494)"><use href="#c"/></g>
<g id="ctl-5" transform="translate(1739 525)"><use href="#c"/></g>
<g id="ctl-6" transform="translate(1552 537)"><use href="#c"/></g>
<g id="ctl-7" transform="translate(1326 572)"><use href="#c"/></g>
<g id="ctl-8" transform="translate(1444 563)"><use href="#c"/></g>
<g id="ctl-9" transform="translate(1734 606)"><use href="#c"/></g>
<g id="ctl-10" transform="translate(1582 643)"><use href="#c"/></g>
<g id="ctl-11" transform="translate(1695 645)"><use href="#c"/></g>
<g id="ctl-12" transform="translate(1545 667)"><use href="#c"/></g>
<g id="ctl-13" transform="translate(1802 665)"><use href="#c"/></g>
<g id="ctl-14" transform="translate(900 711)"><use href="#c"/></g>
<g id="ctl-15" transform="translate(1430 714)"><use href="#c"/></g>
<g id="ctl-16" transform="translate(1542 728)"><use href="#c"/></g>
<g id="ctl-17" transform="translate(1661 731)"><use href="#c"/></g>
<g id="ctl-18" transform="translate(1668 757)"><use href="#c"/></g>
<g id="ctl-19" transform="translate(1175 785)"><use href="#c"/></g>
<g id="ctl-20" transform="translate(1383 764)"><use href="#c"/></g>
<g id="ctl-21" transform="translate(1625 802)"><use href="#c"/></g>
<g id="ctl-22" transform="translate(1643 811)"><use href="#c"/></g>
<g id="ctl-23" transform="translate(1782 821)"><use href="#c"/></g>
<g id="ctl-24" transform="translate(1384 900)"><use href="#c"/></g>
<g id="ctl-25" transform="translate(1484 885)"><use href="#c"/></g>
<g id="ctl-26" transform="translate(1466 902)"><use href="#c"/></g>
<g id="ctl-27" transform="translate(1624 903)"><use href="#c"/></g>
<g id="ctl-28" transform="translate(1753 920)"><use href="#c"/></g>
<g id="ctl-29" transform="translate(1919 951)"><use href="#c"/></g>
<g id="ctl-30" transform="translate(1305 1025)"><use href="#c"/></g>
<g id="ctl-31" transform="translate(1515 1005)"><use href="#c"/></g>
<g id="ctl-32" transform="translate(1555 1062)"><use href="#c"/></g>
<g id="ctl-33" transform="translate(1639 1055)"><use href="#c"/></g>
<g id="ctl-34" transform="translate(1811 1101)"><use href="#c"/></g>
</g>
<g id="legend">
<ellipse cx="73" cy="1349" rx="16" ry="18" fill="#138a2b"/>
<text class="lg" x="91" y="1367" textLength="161" lengthAdjust="spacingAndGlyphs">Control</text>
<polygon points="430,1330 447,1367 413,1367" fill="#fe0000"/>
<text class="lg" x="453" y="1367" textLength="266" lengthAdjust="spacingAndGlyphs">Baseline SSc</text>
<rect x="833" y="1334" width="31" height="31" fill="#1effff"/>
<text class="lg" x="868" y="1367" textLength="444" lengthAdjust="spacingAndGlyphs">HSCT-26 month visit</text>
<polygon points="1452,1329 1467,1348 1452,1367 1437,1348" fill="#0000ff"/>
<text class="lg" x="1471" y="1367" textLength="416" lengthAdjust="spacingAndGlyphs">CYC-26 month visit</text>
</g>
</svg>
